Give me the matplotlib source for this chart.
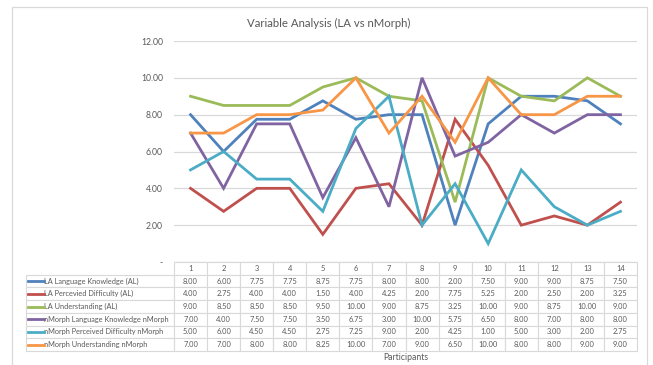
import numpy as np
import matplotlib.pyplot as plt
from matplotlib.patches import Rectangle

plt.rcParams['font.family'] = ['Lato', 'DejaVu Sans']

participants = list(range(1, 15))
series_names = [
    'LA Language Knowledge (AL)',
    'LA Percevied Difficulty (AL)',
    'LA Understanding (AL)',
    'nMorph Language Knowledge nMorph',
    'nMorph Perceived Difficulty nMorph',
    'nMorph Understanding nMorph',
]
la_knowledge = [8.00, 6.00, 7.75, 7.75, 8.75, 7.75, 8.00, 8.00, 2.00, 7.50, 9.00, 9.00, 8.75, 7.50]
la_difficulty = [4.00, 2.75, 4.00, 4.00, 1.50, 4.00, 4.25, 2.00, 7.75, 5.25, 2.00, 2.50, 2.00, 3.25]
la_understanding = [9.00, 8.50, 8.50, 8.50, 9.50, 10.00, 9.00, 8.75, 3.25, 10.00, 9.00, 8.75, 10.00, 9.00]
nm_knowledge = [7.00, 4.00, 7.50, 7.50, 3.50, 6.75, 3.00, 10.00, 5.75, 6.50, 8.00, 7.00, 8.00, 8.00]
nm_difficulty = [5.00, 6.00, 4.50, 4.50, 2.75, 7.25, 9.00, 2.00, 4.25, 1.00, 5.00, 3.00, 2.00, 2.75]
nm_understanding = [7.00, 7.00, 8.00, 8.00, 8.25, 10.00, 7.00, 9.00, 6.50, 10.00, 8.00, 8.00, 9.00, 9.00]
series = [la_knowledge, la_difficulty, la_understanding, nm_knowledge, nm_difficulty, nm_understanding]
colors = ['#4F81BD', '#C0504D', '#9BBB59', '#8064A2', '#4BACC6', '#F79646']

W, H = 653, 365
fig = plt.figure(figsize=(W / 100, H / 100), dpi=100)

# chart area border
fig.patches.append(Rectangle((12 / W, -0.1), 635 / W, 1.1 - 7 / H, transform=fig.transFigure,
                             fill=False, edgecolor='#d9d9d9', lw=0.9))

left, right, top, bottom = 174, 637, 41, 262
ax = fig.add_axes([left / W, 1 - bottom / H, (right - left) / W, (bottom - top) / H])

for vals, c in zip(series, colors):
    ax.plot(participants, vals, color=c, lw=2, solid_joinstyle='miter')

ax.set_xlim(0.5, 14.5)
ax.set_ylim(0, 12)
ax.set_yticks(np.arange(0, 13, 2))
ax.set_yticklabels(['-'] + ['%.2f' % v for v in np.arange(2, 13, 2)], color='#595959', fontsize=6.2)
ax.tick_params(axis='y', length=0, pad=8)
ax.set_xticks([])
ax.grid(axis='y', color='#d9d9d9', lw=0.9)
ax.set_axisbelow(True)
for s in ax.spines.values():
    s.set_visible(False)

fig.text(329 / W, 1 - 23 / H, 'Variable Analysis (LA vs nMorph)', ha='center', va='center',
         fontsize=8.2, color='#595959')

# data table under the plot
tbl_left, tbl_bottom = 26, 351
label_w = (left - tbl_left) / (right - left)
col_w = 1 / 14
cell_text = [[name] + ['%.2f' % v for v in vals] for name, vals in zip(series_names, series)]
tb_y0 = -(tbl_bottom - bottom) / (bottom - top)
tb_h = (tbl_bottom - bottom) / (bottom - top)
table = ax.table(cellText=cell_text, colLabels=[''] + [str(p) for p in participants],
                 colWidths=[label_w] + [col_w] * 14, cellLoc='center',
                 bbox=[-label_w, tb_y0, 1 + label_w, tb_h])
table.auto_set_font_size(False)
table.set_fontsize(5.4)
for (r, c), cell in table.get_celld().items():
    cell.set_edgecolor('#d9d9d9')
    cell.set_linewidth(0.8)
    txt = cell.get_text()
    txt.set_color('#595959')
    if c == 0:
        txt.set_ha('left')
        txt.set_fontsize(5.3)
        txt.set_clip_on(False)
        cell.PAD = 0.125
    if r == 0 and c == 0:
        cell.set_edgecolor('none')

# legend keys in the row label column
row_h = tb_h / 7
for i, c in enumerate(colors):
    yc = tb_y0 + tb_h - (i + 1.5) * row_h
    ax.plot([(28 - left) / (right - left), (44 - left) / (right - left)], [yc, yc],
            color=c, lw=2, transform=ax.transAxes, clip_on=False)

ax.text(0.5, -(358 - bottom) / (bottom - top), 'Participants', transform=ax.transAxes,
        ha='center', va='center', fontsize=6.2, color='#595959')

fig.savefig('out.png', dpi=100)
